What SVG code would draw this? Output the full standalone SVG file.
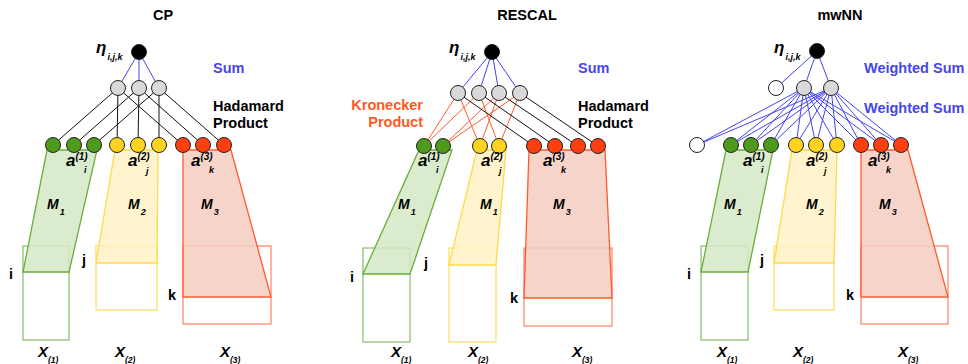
<svg xmlns="http://www.w3.org/2000/svg" width="968" height="364" viewBox="0 0 968 364">
<style>
text{font-family:"Liberation Sans",Arial,sans-serif;font-weight:bold}
.t{font-size:14.5px;fill:#000}
.blue{font-size:14.5px;fill:#4646EE}
.red{font-size:14.5px;fill:#FF5A22}
.lbl{font-size:14.5px;fill:#000}
.it{font-style:italic}
.eta{font-size:17px;font-style:italic}
.sub{font-size:9px;font-style:italic}
.xsub{font-size:8.5px;font-style:italic}
.sup{font-size:10px;font-style:italic}
.av{font-size:17px;font-style:italic}
.mv{font-size:14px;font-style:italic}
.xv{font-size:15px;font-style:italic}
.n{stroke:#222;stroke-width:1}
.blk{fill:#000}
.gry{fill:#D9D9D9}
.wht{fill:#fff}
.g{fill:#4E9A1C}
.y{fill:#FFD320}
.r{fill:#FF3F0F}
.lb{stroke:#4444F0;stroke-width:1;fill:none}
.lk{stroke:#111;stroke-width:1;fill:none}
.lr{stroke:#FF5A2A;stroke-width:1;fill:none}
.tg{fill:#D5E8C6;stroke:#6AAD3D;stroke-width:1.3}
.ty{fill:#FFF2C4;stroke:#FFD94A;stroke-width:1.3}
.tr{fill:#F6CDBF;stroke:#FF5A2E;stroke-width:1.3}
.rg{fill:none;stroke:#6AAD3D;stroke-width:1.3;stroke-opacity:0.75}
.ry{fill:none;stroke:#FFD94A;stroke-width:1.3;stroke-opacity:0.85}
.rr{fill:none;stroke:#FF5A2E;stroke-width:1.3;stroke-opacity:0.7}
</style>

<!-- matrices -->
<g id="matrices">
  <rect class="rg" x="23" y="246" width="46" height="94"/>
  <rect class="ry" x="96" y="246" width="61" height="64"/>
  <rect class="rr" x="183" y="246" width="88" height="78"/>
  <polygon class="tg" points="47,150 97,150 69,272 23,272" fill-opacity="0.85"/>
  <polygon class="ty" points="115,150 158,150 157,263 96,263" fill-opacity="0.85"/>
  <polygon class="tr" points="183,150 231,150 271,297 183,297" fill-opacity="0.85"/>

  <rect class="rg" x="363" y="248" width="47" height="94"/>
  <rect class="ry" x="449" y="248" width="47" height="94"/>
  <rect class="rr" x="524" y="248" width="88" height="78"/>
  <polygon class="tg" points="419,150 452,150 410,274 363,274" fill-opacity="0.85"/>
  <polygon class="ty" points="477,150 506,150 496,265 449,265" fill-opacity="0.85"/>
  <polygon class="tr" points="529,150 605,150 612,298 524,298" fill-opacity="0.85"/>

  <rect class="rg" x="701" y="246" width="47" height="94"/>
  <rect class="ry" x="774" y="246" width="60" height="64"/>
  <rect class="rr" x="861" y="246" width="87" height="78"/>
  <polygon class="tg" points="726,150 773,150 748,272 701,272" fill-opacity="0.85"/>
  <polygon class="ty" points="792,150 837,150 834,263 774,263" fill-opacity="0.85"/>
  <polygon class="tr" points="861,150 908,150 948,297 861,297" fill-opacity="0.85"/>
</g>

<g id="connectors">
  <!-- CP -->
  <path class="lb" d="M139,52L118,88M139,52L139,88M139,52L159,88"/>
  <path class="lk" d="M118,88L53,145M118,88L117,145M118,88L183,145M139,88L74,145M139,88L138,145M139,88L203,145M159,88L94,145M159,88L159,145M159,88L224,145"/>
  <!-- RESCAL -->
  <path class="lb" d="M492,52L458,93M492,52L479,93M492,52L499,93M492,52L520,93"/>
  <path class="lr" d="M458,93L424,146M458,93L480,146M479,93L424,146M479,93L499,146M499,93L443,146M499,93L480,146M520,93L443,146M520,93L499,146"/>
  <path class="lk" d="M458,93L534,146M479,93L555,146M499,93L578,146M520,93L598,146"/>
  <!-- mwNN -->
  <path class="lb" d="M817,51L776,88M817,51L804,88M817,51L831,88"/>
  <path class="lb" d="M804,88L697,145M804,88L731,145M804,88L751,145M804,88L771,145M804,88L796,145M804,88L816,145M804,88L837,145M804,88L861,145M804,88L881,145M804,88L901,145"/>
  <path class="lb" d="M831,88L697,145M831,88L731,145M831,88L751,145M831,88L771,145M831,88L796,145M831,88L816,145M831,88L837,145M831,88L861,145M831,88L881,145M831,88L901,145"/>
</g>

<!-- CP nodes -->
<g id="cp-out"><circle class="n blk" cx="139" cy="52" r="7.5"/></g>
<g id="cp-h1"><circle class="n gry" cx="118" cy="88" r="7.5"/></g>
<g id="cp-h2"><circle class="n gry" cx="139" cy="88" r="7.5"/></g>
<g id="cp-h3"><circle class="n gry" cx="159" cy="88" r="7.5"/></g>
<g id="cp-a1"><circle class="n g" cx="53" cy="145" r="7.5"/><circle class="n g" cx="74" cy="145" r="7.5"/><circle class="n g" cx="94" cy="145" r="7.5"/></g>
<g id="cp-a2"><circle class="n y" cx="117" cy="145" r="7.5"/><circle class="n y" cx="138" cy="145" r="7.5"/><circle class="n y" cx="159" cy="145" r="7.5"/></g>
<g id="cp-a3"><circle class="n r" cx="183" cy="145" r="7.5"/><circle class="n r" cx="203" cy="145" r="7.5"/><circle class="n r" cx="224" cy="145" r="7.5"/></g>

<!-- RESCAL nodes -->
<g id="re-out"><circle class="n blk" cx="492" cy="52" r="7.5"/></g>
<g id="re-h1"><circle class="n gry" cx="458" cy="93" r="7.5"/></g>
<g id="re-h2"><circle class="n gry" cx="479" cy="93" r="7.5"/></g>
<g id="re-h3"><circle class="n gry" cx="499" cy="93" r="7.5"/></g>
<g id="re-h4"><circle class="n gry" cx="520" cy="93" r="7.5"/></g>
<g id="re-a1"><circle class="n g" cx="424" cy="146" r="7.5"/><circle class="n g" cx="443" cy="146" r="7.5"/></g>
<g id="re-a2"><circle class="n y" cx="480" cy="146" r="7.5"/><circle class="n y" cx="499" cy="146" r="7.5"/></g>
<g id="re-a3"><circle class="n r" cx="534" cy="146" r="7.5"/><circle class="n r" cx="555" cy="146" r="7.5"/><circle class="n r" cx="578" cy="146" r="7.5"/><circle class="n r" cx="598" cy="146" r="7.5"/></g>

<!-- mwNN nodes -->
<g id="mw-out"><circle class="n blk" cx="817" cy="51" r="7.5"/></g>
<g id="mw-b2"><circle class="n wht" cx="776" cy="88" r="7.5"/></g>
<g id="mw-h1"><circle class="n gry" cx="804" cy="88" r="7.5"/></g>
<g id="mw-h2"><circle class="n gry" cx="831" cy="88" r="7.5"/></g>
<g id="mw-b1"><circle class="n wht" cx="697" cy="145" r="7.5"/></g>
<g id="mw-a1"><circle class="n g" cx="731" cy="145" r="7.5"/><circle class="n g" cx="751" cy="145" r="7.5"/><circle class="n g" cx="771" cy="145" r="7.5"/></g>
<g id="mw-a2"><circle class="n y" cx="796" cy="145" r="7.5"/><circle class="n y" cx="816" cy="145" r="7.5"/><circle class="n y" cx="837" cy="145" r="7.5"/></g>
<g id="mw-a3"><circle class="n r" cx="861" cy="145" r="7.5"/><circle class="n r" cx="881" cy="145" r="7.5"/><circle class="n r" cx="901" cy="145" r="7.5"/></g>

<g id="labels">
  <!-- titles -->
  <text class="t" x="163" y="19.5" text-anchor="middle">CP</text>
  <text class="t" x="527" y="19.5" text-anchor="middle">RESCAL</text>
  <text class="t" x="840" y="19.5" text-anchor="middle">mwNN</text>

  <!-- eta -->
  <text x="96" y="53"><tspan class="eta">η</tspan><tspan class="sub" dx="1" dy="7">i,j,k</tspan></text>
  <text x="449" y="53"><tspan class="eta">η</tspan><tspan class="sub" dx="1" dy="7">i,j,k</tspan></text>
  <text x="774" y="53"><tspan class="eta">η</tspan><tspan class="sub" dx="1" dy="7">i,j,k</tspan></text>

  <!-- op labels -->
  <text class="blue" x="213" y="73">Sum</text>
  <text class="t" x="213" y="111">Hadamard</text>
  <text class="t" x="213" y="128">Product</text>

  <text class="blue" x="578" y="73">Sum</text>
  <text class="t" x="578" y="111">Hadamard</text>
  <text class="t" x="578" y="128">Product</text>
  <text class="red" x="423" y="110" text-anchor="end">Kronecker</text>
  <text class="red" x="423" y="127" text-anchor="end">Product</text>

  <text class="blue" x="864" y="73">Weighted Sum</text>
  <text class="blue" x="864" y="113">Weighted Sum</text>

  <!-- a labels -->
  <g class="it">
  <text x="66" y="166"><tspan class="av">a</tspan><tspan class="sup" dx="0" dy="-6.5">(1)</tspan></text><text class="sub" x="84" y="173">i</text>
  <text x="128" y="166"><tspan class="av">a</tspan><tspan class="sup" dx="0" dy="-6.5">(2)</tspan></text><text class="sub" x="146" y="174">j</text>
  <text x="191" y="166"><tspan class="av">a</tspan><tspan class="sup" dx="0" dy="-6.5">(3)</tspan></text><text class="sub" x="209" y="173">k</text>

  <text x="418" y="166"><tspan class="av">a</tspan><tspan class="sup" dx="0" dy="-6.5">(1)</tspan></text><text class="sub" x="436" y="173">i</text>
  <text x="481" y="166"><tspan class="av">a</tspan><tspan class="sup" dx="0" dy="-6.5">(2)</tspan></text><text class="sub" x="499" y="174">j</text>
  <text x="543" y="166"><tspan class="av">a</tspan><tspan class="sup" dx="0" dy="-6.5">(3)</tspan></text><text class="sub" x="561" y="173">k</text>

  <text x="743" y="166"><tspan class="av">a</tspan><tspan class="sup" dx="0" dy="-6.5">(1)</tspan></text><text class="sub" x="761" y="173">i</text>
  <text x="806" y="166"><tspan class="av">a</tspan><tspan class="sup" dx="0" dy="-6.5">(2)</tspan></text><text class="sub" x="824" y="174">j</text>
  <text x="868" y="166"><tspan class="av">a</tspan><tspan class="sup" dx="0" dy="-6.5">(3)</tspan></text><text class="sub" x="886" y="173">k</text>
  </g>

  <!-- M labels -->
  <text x="47" y="209"><tspan class="mv">M</tspan><tspan class="sub" dx="1" dy="6">1</tspan></text>
  <text x="128" y="209"><tspan class="mv">M</tspan><tspan class="sub" dx="1" dy="6">2</tspan></text>
  <text x="201" y="209"><tspan class="mv">M</tspan><tspan class="sub" dx="1" dy="6">3</tspan></text>
  <text x="398" y="209"><tspan class="mv">M</tspan><tspan class="sub" dx="1" dy="6">1</tspan></text>
  <text x="480" y="209"><tspan class="mv">M</tspan><tspan class="sub" dx="1" dy="6">1</tspan></text>
  <text x="553" y="209"><tspan class="mv">M</tspan><tspan class="sub" dx="1" dy="6">3</tspan></text>
  <text x="724" y="209"><tspan class="mv">M</tspan><tspan class="sub" dx="1" dy="6">1</tspan></text>
  <text x="806" y="209"><tspan class="mv">M</tspan><tspan class="sub" dx="1" dy="6">2</tspan></text>
  <text x="879" y="209"><tspan class="mv">M</tspan><tspan class="sub" dx="1" dy="6">3</tspan></text>

  <!-- index labels -->
  <text class="lbl" x="9" y="279">i</text>
  <text class="lbl" x="82" y="265">j</text>
  <text class="lbl" x="168" y="300">k</text>
  <text class="lbl" x="350" y="282">i</text>
  <text class="lbl" x="424" y="268">j</text>
  <text class="lbl" x="510" y="303">k</text>
  <text class="lbl" x="687" y="279">i</text>
  <text class="lbl" x="760" y="265">j</text>
  <text class="lbl" x="846" y="300">k</text>

  <!-- X labels -->
  <text x="38" y="357"><tspan class="xv">X</tspan><tspan class="xsub" dx="0" dy="5.5">(1)</tspan></text>
  <text x="115" y="357"><tspan class="xv">X</tspan><tspan class="xsub" dx="0" dy="5.5">(2)</tspan></text>
  <text x="220" y="357"><tspan class="xv">X</tspan><tspan class="xsub" dx="0" dy="5.5">(3)</tspan></text>
  <text x="391" y="357"><tspan class="xv">X</tspan><tspan class="xsub" dx="0" dy="5.5">(1)</tspan></text>
  <text x="468" y="357"><tspan class="xv">X</tspan><tspan class="xsub" dx="0" dy="5.5">(2)</tspan></text>
  <text x="572" y="357"><tspan class="xv">X</tspan><tspan class="xsub" dx="0" dy="5.5">(3)</tspan></text>
  <text x="717" y="357"><tspan class="xv">X</tspan><tspan class="xsub" dx="0" dy="5.5">(1)</tspan></text>
  <text x="793" y="357"><tspan class="xv">X</tspan><tspan class="xsub" dx="0" dy="5.5">(2)</tspan></text>
  <text x="898" y="357"><tspan class="xv">X</tspan><tspan class="xsub" dx="0" dy="5.5">(3)</tspan></text>
</g>
</svg>
